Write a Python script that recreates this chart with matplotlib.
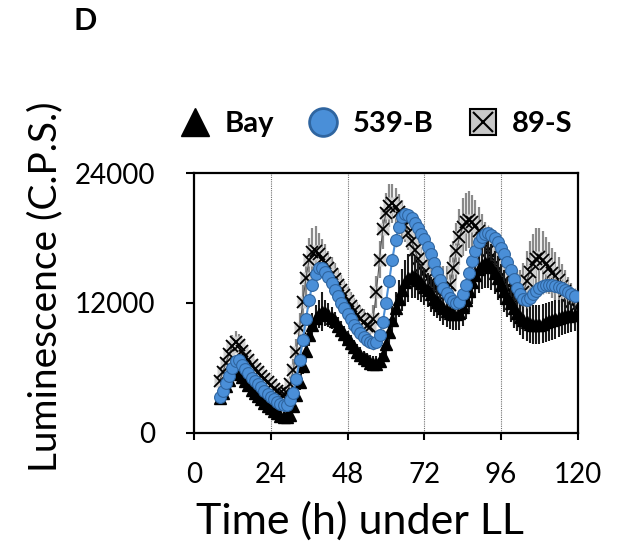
import numpy as np
import matplotlib
matplotlib.use('Agg')
import matplotlib.pyplot as plt
from matplotlib.lines import Line2D

plt.rcParams['font.family'] = ['Lato', 'DejaVu Sans']

# time under LL (h), one reading per hour
time_h = np.arange(8, 120)

bay = [3200, 3700, 4300, 4900, 5400, 5800, 5600, 5200, 4800, 4400, 4000, 3700,
       3400, 3100, 2800, 2500, 2300, 2000, 1800, 1600, 1500, 1500, 1700, 2500,
       3500, 4700, 6200, 7600, 9000, 10000, 10600, 11000, 11200, 11100, 10900, 10600,
       10300, 9900, 9500, 9100, 8700, 8300, 7900, 7500, 7200, 6900, 6700, 6500,
       6400, 6400, 6600, 7200, 8200, 9300, 10400, 11500, 12400, 13200, 13900, 14300,
       14500, 14400, 14100, 13800, 13500, 13200, 12800, 12400, 12100, 11800, 11500, 11300,
       11100, 11000, 11000, 11100, 11600, 12300, 13100, 13900, 14600, 15100, 15500, 15700,
       15600, 15300, 14800, 14300, 13700, 13100, 12500, 12000, 11500, 11100, 10700, 10400,
       10200, 10100, 10000, 10000, 10000, 10100, 10200, 10300, 10400, 10500, 10600, 10700,
       10800, 10800, 10900, 10900]
bay_err = [500, 500, 600, 600, 700, 700, 700, 600, 600, 600, 500, 500,
           500, 500, 500, 400, 400, 400, 400, 400, 400, 400, 500, 600,
           600, 700, 800, 900, 1000, 1100, 1200, 1300, 1800, 1200, 1100, 1000,
           900, 800, 800, 800, 700, 700, 700, 700, 700, 700, 700, 700,
           700, 700, 800, 900, 1000, 1200, 1300, 1500, 1700, 1900, 2100, 2200,
           2000, 1900, 1800, 1700, 1700, 1600, 1600, 1600, 1500, 1500, 1500, 1500,
           1500, 1500, 1500, 1600, 1700, 1800, 1900, 2000, 2100, 2200, 2200, 2300,
           2200, 2100, 2000, 2000, 1900, 1900, 1800, 1800, 1800, 1700, 1700, 1700,
           1700, 1800, 1800, 1800, 1800, 1800, 1800, 1800, 1800, 1800, 1700, 1700,
           1700, 1600, 1600, 1500]

b539 = [3300, 3900, 4600, 5300, 6000, 6600, 6700, 6300, 5900, 5500, 5100, 4800,
        4500, 4200, 3900, 3600, 3300, 3100, 2900, 2700, 2600, 2600, 3000, 3700,
        5000, 6700, 8600, 10500, 12300, 13700, 14700, 15200, 15200, 14900, 14400, 13800,
        13200, 12600, 12000, 11500, 11000, 10500, 10000, 9600, 9200, 8900, 8600, 8400,
        8300, 8400, 9000, 10200, 12000, 14000, 16000, 17800, 19000, 19900, 20200, 20100,
        19800, 19400, 18900, 18400, 17900, 17200, 16500, 15700, 14900, 14100, 13400, 12900,
        12500, 12200, 12000, 12100, 12800, 13700, 14800, 15900, 16800, 17600, 18100, 18400,
        18500, 18300, 18000, 17600, 17100, 16500, 15800, 15000, 14200, 13400, 12800, 12400,
        12300, 12500, 12800, 13100, 13400, 13600, 13700, 13700, 13700, 13600, 13500, 13400,
        13200, 13000, 12800, 12600]
b539_err = [300] * 24 + [500] * 24 + [600] * 24 + [700] * 24 + [800] * 16

s89 = [4800, 5600, 6500, 7300, 8000, 8400, 8100, 7600, 7100, 6700, 6300, 5900,
       5600, 5300, 5000, 4700, 4400, 4100, 3900, 3700, 3600, 3700, 4500, 5800,
       7500, 9700, 12100, 14300, 16000, 16700, 16800, 16500, 16100, 15700, 15200, 14700,
       14200, 13700, 13200, 12700, 12200, 11700, 11300, 10900, 10500, 10200, 9900, 9800,
       10500, 13000, 16000, 18800, 20300, 21000, 21200, 20900, 20400, 19800, 19200, 18500,
       17700, 16900, 16100, 15400, 14800, 14300, 13900, 13500, 13200, 13000, 12900, 12900,
       13700, 15200, 16800, 18100, 19000, 19500, 19700, 19500, 19100, 18600, 18000, 17400,
       16800, 16200, 15600, 15000, 14500, 14000, 13500, 13000, 12600, 12300, 12300, 13000,
       14000, 14900, 15600, 16100, 16200, 16000, 15600, 15200, 14800, 14500, 14100, 13600,
       13100, 12600, 12100, 11600]
s89_err = [800, 800, 900, 900, 1000, 1000, 1000, 900, 900, 900, 800, 800,
           800, 700, 700, 700, 700, 600, 600, 600, 600, 700, 800, 1000,
           1200, 1400, 1600, 1800, 2000, 2200, 2300, 2000, 1800, 1700, 1600, 1500,
           1500, 1400, 1400, 1300, 1300, 1300, 1200, 1200, 1200, 1200, 1200, 1200,
           1300, 1500, 1700, 1800, 1900, 2000, 1800, 1700, 1700, 1700, 1600, 1600,
           1600, 1600, 1700, 1800, 1900, 2000, 2100, 2200, 2300, 2400, 2500, 2500,
           2500, 2500, 2600, 2600, 2700, 2700, 2600, 2500, 2400, 2300, 2200, 2100,
           2100, 2100, 2100, 2200, 2300, 2400, 2500, 2600, 2700, 2700, 2700, 2700,
           2800, 2800, 2800, 2800, 2700, 2600, 2500, 2400, 2300, 2200, 2100, 2000,
           1900, 1800, 1700, 1600]

labels = ['Bay', '539-B', '89-S']
x_ticks = [0, 24, 48, 72, 96, 120]
y_ticks = [0, 12000, 24000]

blue = '#4a8fd8'
blue_edge = '#2f65a0'

fig = plt.figure(figsize=(6.35, 5.48), dpi=100)
ax = fig.add_axes([0.3055, 0.2099, 0.6045, 0.4744])

for x in [24, 48, 72, 96]:
    ax.axvline(x, color='#707070', lw=0.8, ls=(0, (1, 1)), zorder=0)

# 89-S
ax.errorbar(time_h, s89, yerr=s89_err, fmt='none', ecolor='#8a8a8a', elinewidth=1.6, zorder=1)
ax.plot(time_h, s89, ls='none', marker='s', ms=8.5, mfc='#d0d0d0', mec='none', zorder=2)
ax.plot(time_h, s89, color='#555555', lw=0.8, marker='x', ms=8, mew=1.3, mec='black', zorder=3)

# Bay
ax.errorbar(time_h, bay, yerr=bay_err, fmt='none', ecolor='#1a1a1a', elinewidth=1.5, zorder=4)
ax.plot(time_h, bay, color='black', lw=1.2, marker='^', ms=8.5, mfc='black', mec='black', zorder=5)

# 539-B
ax.errorbar(time_h, b539, yerr=b539_err, fmt='none', ecolor='#9a9a9a', elinewidth=1, zorder=6)
ax.plot(time_h, b539, color=blue, lw=1.5, marker='o', ms=8.5, mfc=blue, mec=blue_edge, mew=0.8, zorder=7)

ax.set_xlim(0, 120)
ax.set_ylim(0, 24000)
ax.set_xticks(x_ticks)
ax.set_yticks(y_ticks)
ax.set_xticklabels([str(t) for t in x_ticks], fontsize=20)
ax.set_yticklabels([str(t) for t in y_ticks], fontsize=20)
ax.tick_params(axis='x', direction='out', length=5, width=1.5, pad=16)
ax.tick_params(axis='y', direction='out', length=6, width=1.5, pad=22)
for s in ax.spines.values():
    s.set_linewidth(1.6)

fig.text(0.071, 0.476, 'Luminescence (C.P.S.)', rotation=90, ha='center', va='center', fontsize=28)
fig.text(0.567, 0.049, 'Time (h) under LL', ha='center', va='center', fontsize=31)
fig.text(0.134, 0.961, 'D', ha='center', va='center', fontsize=22, fontweight='bold')

handles = [
    Line2D([], [], ls='none', marker='^', ms=20, mfc='black', mec='black'),
    Line2D([], [], ls='none', marker='o', ms=20, mfc=blue, mec=blue_edge, mew=2),
    (Line2D([], [], ls='none', marker='s', ms=19, mfc='#c8c8c8', mec='black', mew=1.5),
     Line2D([], [], ls='none', marker='x', ms=14, mec='black', mew=1.5)),
]
fig.legend(handles, labels, loc='center', bbox_to_anchor=(0.591, 0.774), ncol=3, frameon=False,
           prop={'size': 21, 'weight': 'bold'}, handlelength=1.2, handletextpad=0.4, columnspacing=1.1)

fig.savefig('out.png', dpi=100)
